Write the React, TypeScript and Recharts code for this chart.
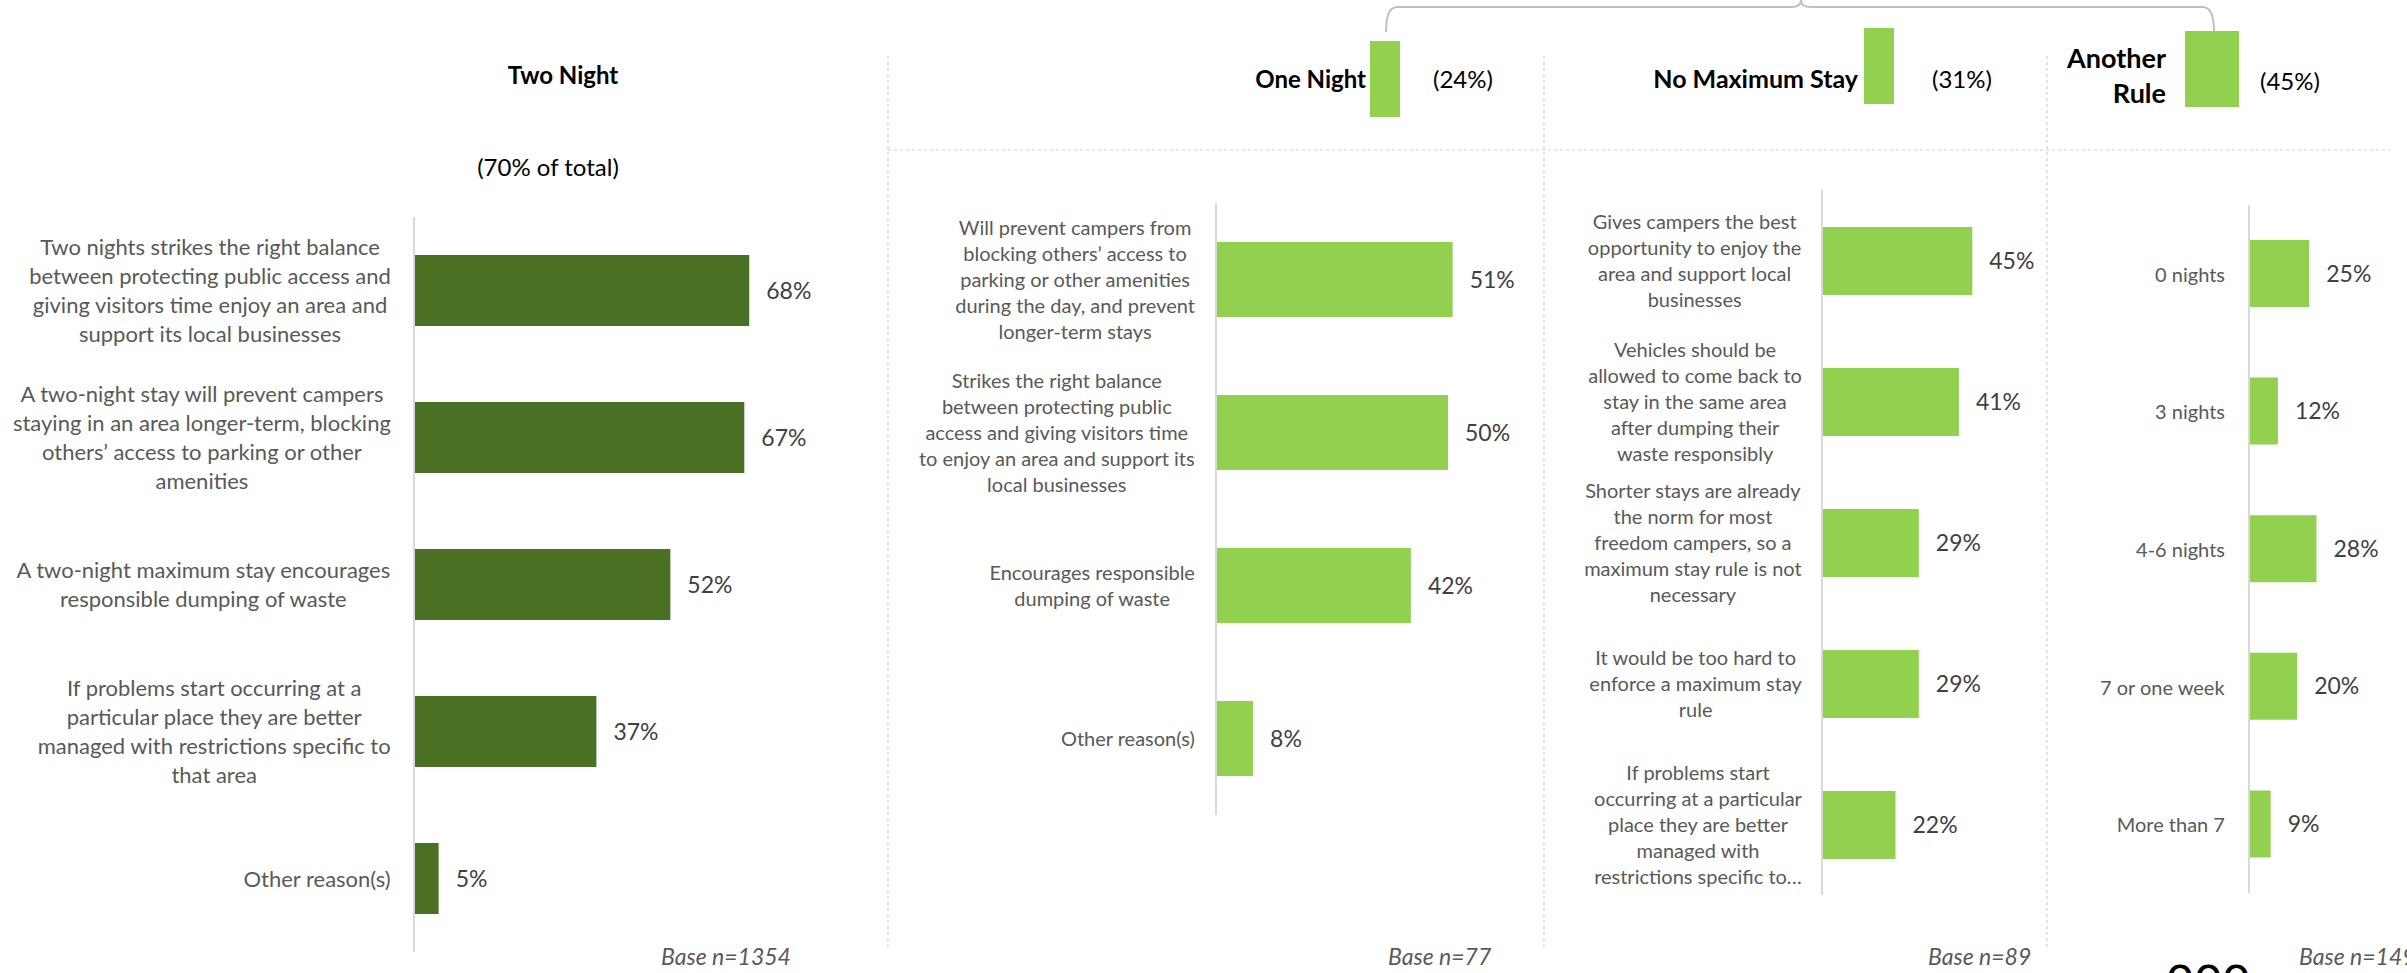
import React from 'react';
import { BarChart, Bar, XAxis, YAxis, LabelList } from 'recharts';

const twoNightReasons = [
  'Two nights strikes the right balance\nbetween protecting public access and\ngiving visitors time enjoy an area and\nsupport its local businesses',
  'A two-night stay will prevent campers\nstaying in an area longer-term, blocking\nothers’ access to parking or other\namenities',
  'A two-night maximum stay encourages\nresponsible dumping of waste',
  'If problems start occurring at a\nparticular place they are better\nmanaged with restrictions specific to\nthat area',
  'Other reason(s)',
];
const twoNightValues = [68, 67, 52, 37, 5];

const oneNightReasons = [
  'Will prevent campers from\nblocking others’ access to\nparking or other amenities\nduring the day, and prevent\nlonger-term stays',
  'Strikes the right balance\nbetween protecting public\naccess and giving visitors time\nto enjoy an area and support its\nlocal businesses',
  'Encourages responsible\ndumping of waste',
  'Other reason(s)',
];
const oneNightValues = [51, 50, 42, 8];

const noMaxReasons = [
  'Gives campers the best\nopportunity to enjoy the\narea and support local\nbusinesses',
  'Vehicles should be\nallowed to come back to\nstay in the same area\nafter dumping their\nwaste responsibly',
  'Shorter stays are already\nthe norm for most\nfreedom campers, so a\nmaximum stay rule is not\nnecessary',
  'It would be too hard to\nenforce a maximum stay\nrule',
  'If problems start\noccurring at a particular\nplace they are better\nmanaged with\nrestrictions specific to…',
];
const noMaxValues = [45, 41, 29, 29, 22];

const otherRuleOptions = ['0 nights', '3 nights', '4-6 nights', '7 or one week', 'More than 7'];
const otherRuleValues = [25, 12, 28, 20, 9];

const groupShares = ['(70% of total)', '(24%)', '(31%)', '(45%)'];
const baseSizes = ['Base n=1354', 'Base n=77', 'Base n=89', 'Base n=149'];

const FONT = 'Lato, "Open Sans", sans-serif';
const DARK_GREEN = '#4a7123';
const LIGHT_GREEN = '#92d050';

let canvasCtx: CanvasRenderingContext2D | null = null;
const measure = (text: string, size: number) => {
  if (!canvasCtx) canvasCtx = document.createElement('canvas').getContext('2d');
  if (!canvasCtx) return text.length * size * 0.45;
  canvasCtx.font = `${size}px Lato`;
  return canvasCtx.measureText(text).width;
};

// Excel style category label: block sits against the axis, lines centred inside it
const WrappedTick = ({ x, y, payload, fontSize, lineHeight }: any) => {
  const lines = String(payload.value).split('\n');
  const blockW = Math.max(...lines.map((l) => measure(l, fontSize)));
  const cx = x - blockW / 2;
  const y0 = y - ((lines.length - 1) * lineHeight) / 2;
  return (
    <g>
      {lines.map((l, i) => (
        <text
          key={i}
          x={cx}
          y={y0 + i * lineHeight}
          textAnchor="middle"
          dominantBaseline="central"
          fill="#595959"
          fontSize={fontSize}
          fontFamily={FONT}
        >
          {l}
        </text>
      ))}
    </g>
  );
};

interface PanelProps {
  labels: string[];
  values: number[];
  left: number;
  axisX: number;
  pxPerPct: number;
  maxPct: number;
  right: number;
  top: number;
  bottom: number;
  barSize: number;
  color: string;
  fontSize: number;
  lineHeight: number;
  gap: number;
}

const Panel = ({ labels, values, left, axisX, pxPerPct, maxPct, right, top, bottom, barSize, color, fontSize, lineHeight, gap }: PanelProps) => {
  const data = labels.map((label, i) => ({ label, value: values[i] }));
  const axisW = axisX - left;
  const width = axisW + maxPct * pxPerPct + right;
  return (
    <BarChart
      width={width}
      height={973}
      data={data}
      layout="vertical"
      margin={{ top, bottom: 973 - bottom, left: 0, right }}
      style={{ position: 'absolute', left, top: 0 }}
    >
      <XAxis type="number" domain={[0, maxPct]} hide />
      <YAxis
        type="category"
        dataKey="label"
        width={axisW}
        tickLine={false}
        tickSize={0}
        tickMargin={gap}
        axisLine={{ stroke: '#d9d9d9', strokeWidth: 2 }}
        interval={0}
        tick={(p: any) => <WrappedTick {...p} fontSize={fontSize} lineHeight={lineHeight} />}
      />
      <Bar dataKey="value" fill={color} barSize={barSize} isAnimationActive={false}>
        <LabelList
          dataKey="value"
          position="right"
          offset={17}
          formatter={(v: any) => `${v}%`}
          fill="#404040"
          fontSize={23}
          fontFamily={FONT}
        />
      </Bar>
    </BarChart>
  );
};

const Decorations = () => {
  const dash = { stroke: '#d0d0d0', strokeWidth: 1.2, strokeDasharray: '3 3' };
  const title = { fontFamily: FONT, fontWeight: 700, fontSize: 24, fill: '#000' };
  const share = { fontFamily: FONT, fontSize: 24, fill: '#000' };
  const base = { fontFamily: FONT, fontStyle: 'italic', fontSize: 23, fill: '#595959' };
  return (
    <svg width={2407} height={973} style={{ position: 'absolute', left: 0, top: 0 }}>
      <line x1={888} y1={56} x2={888} y2={947} {...dash} />
      <line x1={1544} y1={56} x2={1544} y2={947} {...dash} />
      <line x1={2047} y1={56} x2={2047} y2={947} {...dash} />
      <line x1={888} y1={150} x2={2390} y2={150} {...dash} />
      <path
        d="M 1386 32 Q 1386 7 1397 7 L 1791 7 Q 1801 7 1801 0 Q 1801 7 1811 7 L 2203 7 Q 2214 7 2214 32"
        fill="none"
        stroke="#bfbfbf"
        strokeWidth={2}
      />
      <rect x={1370} y={41} width={30} height={76} fill={LIGHT_GREEN} />
      <rect x={1864} y={28} width={30} height={76} fill={LIGHT_GREEN} />
      <rect x={2185} y={31} width={54} height={76} fill={LIGHT_GREEN} />

      <text x={563} y={74} textAnchor="middle" dominantBaseline="central" {...title}>Two Night</text>
      <text x={548} y={166} textAnchor="middle" dominantBaseline="central" {...share}>{groupShares[0]}</text>
      <text x={1366} y={78} textAnchor="end" dominantBaseline="central" {...title}>One Night</text>
      <text x={1433} y={78} dominantBaseline="central" {...share}>{groupShares[1]}</text>
      <text x={1858} y={78} textAnchor="end" dominantBaseline="central" {...title} fontSize={25}>No Maximum Stay</text>
      <text x={1932} y={78} dominantBaseline="central" {...share}>{groupShares[2]}</text>
      <text x={2166} y={57} textAnchor="end" dominantBaseline="central" {...title} fontSize={27}>Another</text>
      <text x={2166} y={92} textAnchor="end" dominantBaseline="central" {...title} fontSize={27}>Rule</text>
      <text x={2260} y={80} dominantBaseline="central" {...share}>{groupShares[3]}</text>

      <text x={661} y={956} dominantBaseline="central" {...base}>{baseSizes[0]}</text>
      <text x={1388} y={956} dominantBaseline="central" {...base}>{baseSizes[1]}</text>
      <text x={1928} y={956} dominantBaseline="central" {...base}>{baseSizes[2]}</text>
      <text x={2299} y={956} dominantBaseline="central" {...base}>{baseSizes[3]}</text>
      <text x={2166} y={990} fontFamily="DejaVu Sans" fontSize={46} fill="#000">ooo</text>
    </svg>
  );
};

export default function App() {
  return (
    <div style={{ position: 'absolute', left: 0, top: 0, width: 2407, height: 973, overflow: 'hidden', background: '#fff' }}>
      <Decorations />
      <Panel labels={twoNightReasons} values={twoNightValues} left={0} axisX={414} pxPerPct={4.93} maxPct={80} right={60}
        top={217} bottom={952} barSize={71} color={DARK_GREEN} fontSize={22} lineHeight={29} gap={23} />
      <Panel labels={oneNightReasons} values={oneNightValues} left={889} axisX={1216} pxPerPct={4.64} maxPct={70} right={0}
        top={203} bottom={815} barSize={75} color={LIGHT_GREEN} fontSize={20} lineHeight={26} gap={21} />
      <Panel labels={noMaxReasons} values={noMaxValues} left={1545} axisX={1822} pxPerPct={3.34} maxPct={65} right={0}
        top={190} bottom={895} barSize={68} color={LIGHT_GREEN} fontSize={20} lineHeight={26} gap={20} />
      <Panel labels={otherRuleOptions} values={otherRuleValues} left={2048} axisX={2249} pxPerPct={2.41} maxPct={60} right={0}
        top={205} bottom={893} barSize={67} color={LIGHT_GREEN} fontSize={20} lineHeight={26} gap={24} />
    </div>
  );
}
